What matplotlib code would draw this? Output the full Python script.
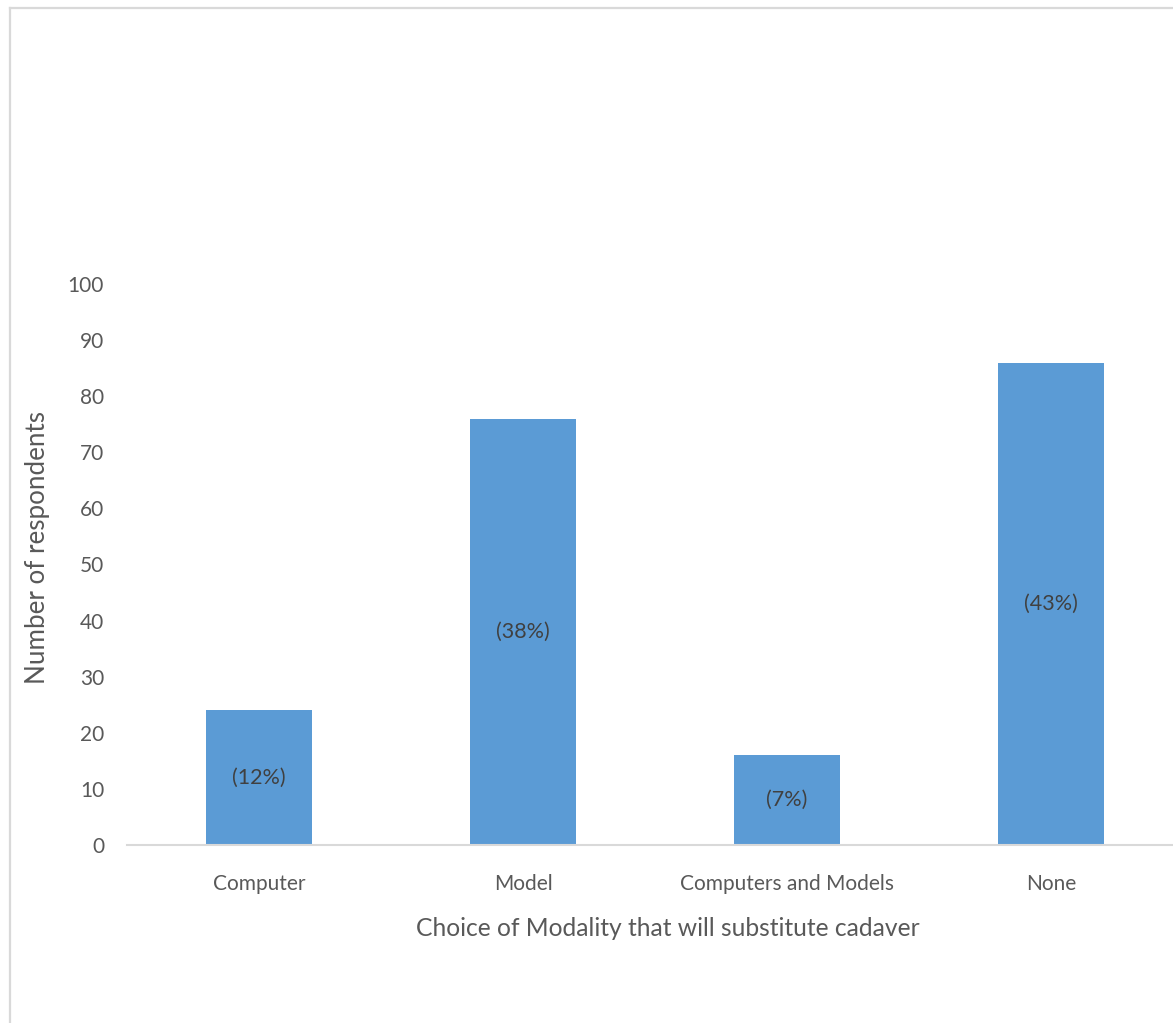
import matplotlib
matplotlib.use("Agg")
import matplotlib.pyplot as plt
from matplotlib.lines import Line2D

categories = ["Computer", "Model", "Computers and Models", "None"]
respondents = [24, 76, 16, 86]
pct_labels = ["(12%)", "(38%)", "(7%)", "(43%)"]
y_ticks = [0, 10, 20, 30, 40, 50, 60, 70, 80, 90, 100]

W, H = 1173, 1023
plt.rcParams["font.family"] = ["Lato", "DejaVu Sans"]

fig = plt.figure(figsize=(W / 100, H / 100), dpi=100)
fig.patch.set_facecolor("white")

# plot area in pixels: x from 127 to 1183, y from 845 (0) to 284 (100)
px_l, px_r, px_b, px_t = 127, 1183, 845, 284
ax = fig.add_axes([px_l / W, 1 - px_b / H, (px_r - px_l) / W, (px_b - px_t) / H])
ax.set_xlim(-0.5, len(categories) - 0.5)
ax.set_ylim(0, 100)

x = range(len(categories))
bars = ax.bar(x, respondents, width=0.4, color="#5B9BD5", zorder=2)
for b, v, lab in zip(bars, respondents, pct_labels):
    ax.text(b.get_x() + b.get_width() / 2, v / 2, lab, ha="center", va="center",
            fontsize=15.5, color="#404040", zorder=3)

for side in ["top", "right", "left"]:
    ax.spines[side].set_visible(False)
ax.spines["bottom"].set_color("#D9D9D9")
ax.spines["bottom"].set_linewidth(1.5)
ax.spines["bottom"].set_clip_on(False)

ax.set_yticks(y_ticks)
ax.set_xticks(list(x))
ax.set_xticklabels(categories)
ax.tick_params(axis="both", length=0, labelsize=15, labelcolor="#595959")
ax.tick_params(axis="y", pad=16.5)
ax.tick_params(axis="x", pad=21)

ax.set_ylabel("Number of respondents", fontsize=18.7, color="#595959")
ax.set_xlabel("Choice of Modality that will substitute cadaver", fontsize=17.7,
              color="#595959")
ax.yaxis.set_label_coords((38 - px_l) / (px_r - px_l), (px_b - 548) / (px_b - px_t))
ax.xaxis.set_label_coords((668 - px_l) / (px_r - px_l), -(929 - px_b) / (px_b - px_t))
ax.xaxis.label.set_va("center")
ax.yaxis.label.set_va("center")

# outer chart-area frame (top and left edges visible)
fig.add_artist(Line2D([9.5 / W, 9.5 / W], [1 - 7.5 / H, 0], transform=fig.transFigure,
                      color="#D9D9D9", linewidth=1.6))
fig.add_artist(Line2D([9.5 / W, 1], [1 - 7.5 / H, 1 - 7.5 / H], transform=fig.transFigure,
                      color="#D9D9D9", linewidth=1.6))

fig.savefig("out.png", dpi=100, facecolor="white")
